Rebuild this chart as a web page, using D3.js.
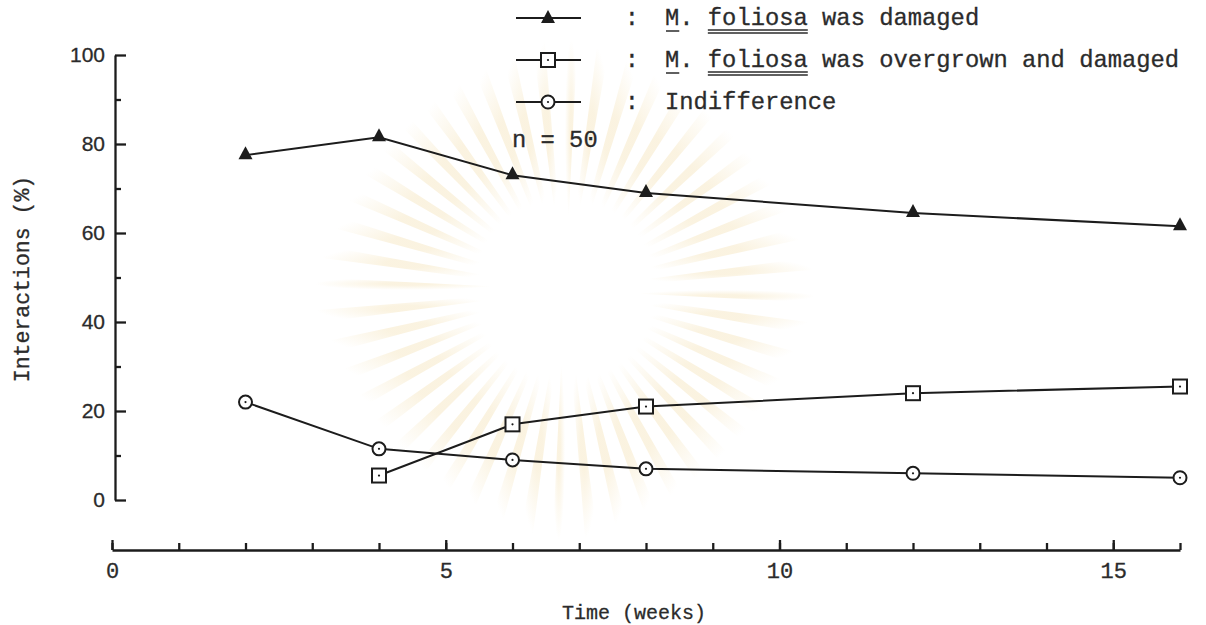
<!DOCTYPE html>
<html>
<head>
<meta charset="utf-8">
<script src="https://cdn.jsdelivr.net/npm/d3@7"></script>
<style>
  body { margin: 0; background: #fff; }
  svg { display: block; }
</style>
</head>
<body>
<div id="chart"></div>
<script>
// Data (interactions in %, n = 50)
const weeks = [2, 4, 6, 8, 12, 16];
const damaged = [77.5, 81.5, 73, 69, 64.5, 61.5];
const overgrownWeeks = [4, 6, 8, 12, 16];
const overgrown = [5.5, 17, 21, 24, 25.5];
const indifference = [22, 11.5, 9, 7, 6, 5];

const yTicks = [0, 20, 40, 60, 80, 100];
const yMinor = [10, 30, 50, 70, 90];
const xLabels = [0, 5, 10, 15];
const legendNames = [
  ["M.", "foliosa", "was damaged"],
  ["M.", "foliosa", "was overgrown and damaged"],
  ["Indifference"]
];

const svgWidth = 1206, svgHeight = 625;
const ink = "#1c1c1c";
const textInk = "#2b2b2b";
const mono = "'Liberation Mono', 'DejaVu Sans Mono', monospace";

let svg = d3.select("#chart").append("svg")
  .attr("width", svgWidth)
  .attr("height", svgHeight);

svg.append("rect").attr("width", svgWidth).attr("height", svgHeight).attr("fill", "#fff");

// very faint watermark behind the plot
let defs = svg.append("defs");
let grad = defs.append("radialGradient").attr("id", "wm");
grad.append("stop").attr("offset", "25%").attr("stop-color", "#f5e4bb").attr("stop-opacity", 0.45);
grad.append("stop").attr("offset", "100%").attr("stop-color", "#f5e4bb").attr("stop-opacity", 0);
let wm = svg.append("g").attr("transform", "translate(565,290)");
d3.range(48).forEach(i => {
  let a = i / 48 * 2 * Math.PI;
  wm.append("path")
    .attr("d", d3.arc()({innerRadius: 65, outerRadius: 250, startAngle: a, endAngle: a + 0.05}))
    .attr("fill", "url(#wm)");
});

// Scales
let x = d3.scaleLinear().domain([0, 16]).range([112, 1180]);
let y = d3.scaleLinear().domain([0, 100]).range([500, 55]);
const yAxisX = 115, xAxisY = 550;

// Y axis: major + minor ticks pointing right, labels on the left
svg.append("g").attr("transform", `translate(${yAxisX},0)`)
  .call(d3.axisRight(y).tickValues(yTicks).tickSize(11).tickSizeOuter(0).tickFormat(""));
svg.append("g").attr("transform", `translate(${yAxisX},0)`)
  .call(d3.axisRight(y).tickValues(yMinor).tickSize(6).tickFormat(""))
  .select(".domain").remove();
svg.append("g").attr("transform", `translate(${yAxisX},0)`)
  .call(d3.axisLeft(y).tickValues(yTicks).tickSize(0).tickPadding(10))
  .call(g => g.select(".domain").remove())
  .selectAll("text")
  .attr("font-family", "'Liberation Sans', Arial, sans-serif")
  .attr("font-size", 21)
  .attr("fill", textInk)
  .attr("stroke", textInk).attr("stroke-width", 0.3);

// X axis: ticks every week pointing up, labels below
svg.append("g").attr("transform", `translate(0,${xAxisY})`)
  .call(d3.axisTop(x).ticks(16).tickSize(7).tickSizeOuter(0).tickFormat(""));
svg.append("g").attr("transform", `translate(0,${xAxisY})`)
  .call(d3.axisTop(x).tickValues([0, 5, 10, 15]).tickSize(10).tickFormat(""))
  .select(".domain").remove();
svg.append("g").attr("transform", `translate(0,${xAxisY})`)
  .call(d3.axisBottom(x).tickValues(xLabels).tickSize(0).tickPadding(12))
  .call(g => g.select(".domain").remove())
  .selectAll("text")
  .attr("font-family", mono)
  .attr("font-size", 22)
  .attr("fill", textInk)
  .attr("stroke", textInk).attr("stroke-width", 0.3);

svg.selectAll(".domain, .tick line")
  .attr("stroke", ink)
  .attr("stroke-width", 2.3);

// Axis titles
svg.append("text")
  .attr("x", 634).attr("y", 619)
  .attr("text-anchor", "middle")
  .attr("font-family", mono).attr("font-size", 20)
  .attr("fill", textInk).attr("stroke", textInk).attr("stroke-width", 0.3)
  .text("Time (weeks)");

svg.append("text")
  .attr("transform", "translate(29,279) rotate(-90)")
  .attr("text-anchor", "middle")
  .attr("font-family", mono).attr("font-size", 21.5)
  .attr("fill", textInk).attr("stroke", textInk).attr("stroke-width", 0.3)
  .text("Interactions (%)");

// Markers
function triangle(g, cx, cy) {
  g.append("path")
    .attr("d", `M${cx},${cy - 9}L${cx + 7},${cy + 4}L${cx - 7},${cy + 4}Z`)
    .attr("fill", ink);
}
function square(g, cx, cy) {
  g.append("rect")
    .attr("x", cx - 7).attr("y", cy - 7).attr("width", 14).attr("height", 14)
    .attr("fill", "#fff").attr("stroke", ink).attr("stroke-width", 2);
  g.append("circle").attr("cx", cx).attr("cy", cy).attr("r", 1.1).attr("fill", ink);
}
function ring(g, cx, cy) {
  g.append("circle")
    .attr("cx", cx).attr("cy", cy).attr("r", 6.5)
    .attr("fill", "#fff").attr("stroke", ink).attr("stroke-width", 2);
  g.append("circle").attr("cx", cx).attr("cy", cy).attr("r", 1.1).attr("fill", ink);
}

let line = d3.line().x(d => x(d[0])).y(d => y(d[1]));

let series = [
  {pts: d3.zip(weeks, damaged), mark: triangle},
  {pts: d3.zip(overgrownWeeks, overgrown), mark: square},
  {pts: d3.zip(weeks, indifference), mark: ring}
];

let plot = svg.append("g");
series.forEach(s => {
  plot.append("path")
    .attr("d", line(s.pts))
    .attr("fill", "none")
    .attr("stroke", ink)
    .attr("stroke-width", 2);
});
series.forEach(s => {
  s.pts.forEach(p => s.mark(plot, x(p[0]), y(p[1])));
});

// Legend
const legFont = 23.8, cw = legFont * 0.6;
const textX = 665;
const rowY = [18, 60, 102];
let legend = svg.append("g");
series.forEach((s, i) => {
  let ly = rowY[i];
  legend.append("line")
    .attr("x1", 516).attr("x2", 581).attr("y1", ly).attr("y2", ly)
    .attr("stroke", ink).attr("stroke-width", 2);
  s.mark(legend, 548, ly + (i === 0 ? 1 : 0));
  legend.append("text")
    .attr("x", 632).attr("y", ly + 7)
    .attr("text-anchor", "middle")
    .attr("font-family", mono).attr("font-size", legFont)
    .attr("fill", textInk).attr("stroke", textInk).attr("stroke-width", 0.3)
    .text(":");
  legend.append("text")
    .attr("x", textX).attr("y", ly + 7)
    .attr("font-family", mono).attr("font-size", legFont)
    .attr("fill", textInk).attr("stroke", textInk).attr("stroke-width", 0.3)
    .attr("xml:space", "preserve")
    .text(legendNames[i].join(" "));
  if (legendNames[i].length > 1) {
    // underline "M" and double-underline "foliosa"
    legend.append("line")
      .attr("x1", textX + 1).attr("x2", textX + cw).attr("y1", ly + 13).attr("y2", ly + 13)
      .attr("stroke", textInk).attr("stroke-width", 1.5);
    [12, 15].forEach(off => {
      legend.append("line")
        .attr("x1", textX + 3 * cw).attr("x2", textX + 10 * cw)
        .attr("y1", ly + off).attr("y2", ly + off)
        .attr("stroke", textInk).attr("stroke-width", 1.3);
    });
  }
});
legend.append("text")
  .attr("x", 512).attr("y", 147)
  .attr("font-family", mono).attr("font-size", legFont)
  .attr("fill", textInk).attr("stroke", textInk).attr("stroke-width", 0.3)
  .attr("xml:space", "preserve")
  .text("n = 50");
</script>
</body>
</html>
